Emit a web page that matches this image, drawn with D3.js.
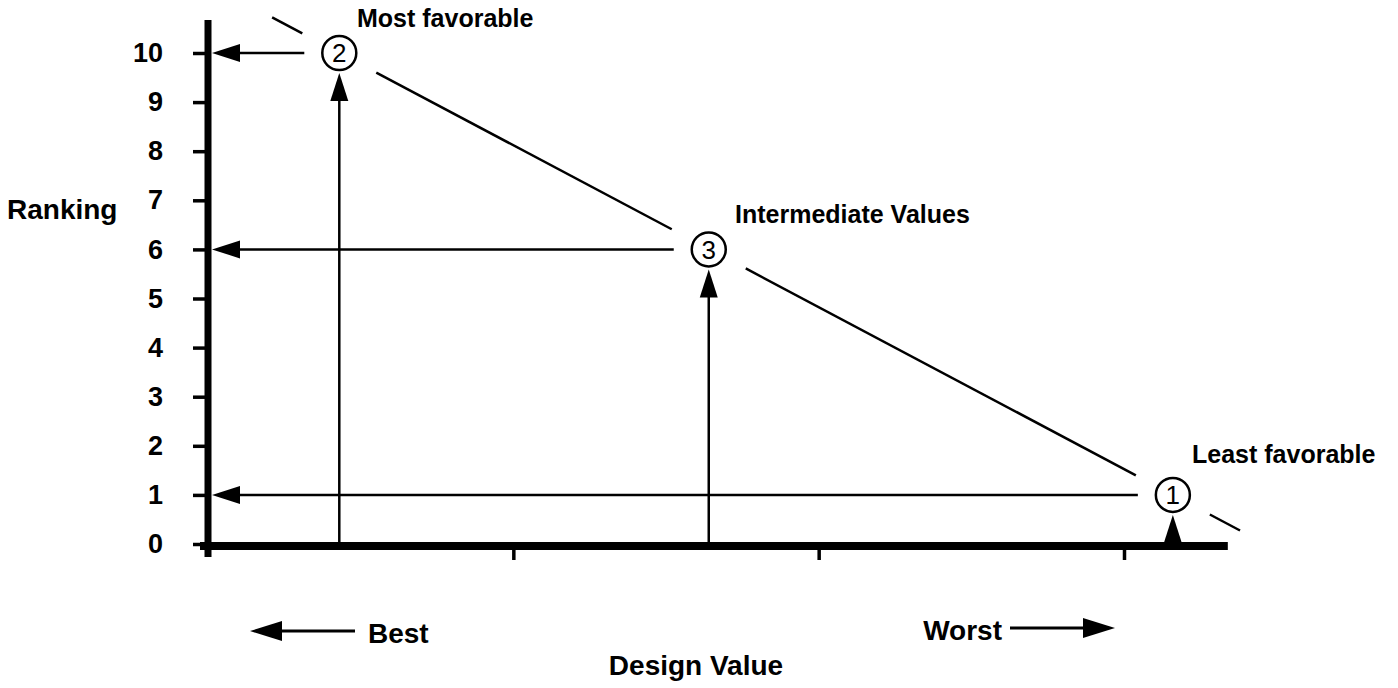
<!DOCTYPE html>
<html>
<head>
<meta charset="utf-8">
<script src="https://cdn.jsdelivr.net/npm/d3@7"></script>
<style>
  body { margin: 0; background: #fff; }
  svg text { font-family: "Liberation Sans", Arial, Helvetica, sans-serif; font-weight: bold; fill: #000; }
</style>
</head>
<body>
<svg></svg>
<script>
// ---- data ----
const rankTicks = [0, 1, 2, 3, 4, 5, 6, 7, 8, 9, 10];
const designTicks = [1, 2, 3];
const pointIds = ["2", "3", "1"];          // circled numbers
const designValues = [0.43, 1.64, 3.16];    // position on design value axis
const rankValues = [10, 6, 1];
const pointLabels = ["Most favorable", "Intermediate Values", "Least favorable"];
const lineExtent = [0.21, 3.38];            // ranking line drawn past both end points

const svgW = 1398, svgH = 688;

const svg = d3.select("svg")
    .attr("width", svgW)
    .attr("height", svgH);

const xScale = d3.scaleLinear()
    .domain([0, 3])
    .range([208, 1124]);

const yScale = d3.scaleLinear()
    .domain([0, 10])
    .range([544, 53]);

// ranking as a straight line through best and worst points
const rankOf = d3.scaleLinear()
    .domain([designValues[0], designValues[2]])
    .range([rankValues[0], rankValues[2]]);

// ---- axes ----
const yAxis = d3.axisLeft(yScale)
    .tickValues(rankTicks)
    .tickSize(15)
    .tickPadding(30);

const yG = svg.append("g")
    .attr("transform", `translate(${xScale(0)},0)`)
    .call(yAxis);
yG.select(".domain").remove();
yG.selectAll("line").attr("stroke", "#000").attr("stroke-width", 3.5);
yG.selectAll("text").attr("font-size", 27).attr("fill", "#000");

const xAxis = d3.axisBottom(xScale)
    .tickValues(designTicks)
    .tickSize(14)
    .tickFormat("");

const axisY = yScale(0) + 2;
const xG = svg.append("g")
    .attr("transform", `translate(0,${axisY})`)
    .call(xAxis);
xG.select(".domain").remove();
xG.selectAll("line").attr("stroke", "#000").attr("stroke-width", 3.5);

// thick axis lines
svg.append("line")
    .attr("x1", xScale(0)).attr("x2", xScale(0))
    .attr("y1", 20).attr("y2", axisY + 11)
    .attr("stroke", "#000").attr("stroke-width", 7);

svg.append("line")
    .attr("x1", xScale(0) - 8).attr("x2", xScale(3.34))
    .attr("y1", axisY).attr("y2", axisY)
    .attr("stroke", "#000").attr("stroke-width", 8);

// ---- arrow helper ----
function arrowHead(tipX, tipY, dir, len, half) {
    // dir: "left", "right", "up"
    let pts;
    if (dir === "left") pts = [[tipX, tipY], [tipX + len, tipY - half], [tipX + len, tipY + half]];
    else if (dir === "right") pts = [[tipX, tipY], [tipX - len, tipY - half], [tipX - len, tipY + half]];
    else pts = [[tipX, tipY], [tipX - half, tipY + len], [tipX + half, tipY + len]];
    svg.append("path")
        .attr("d", d3.line()(pts) + "Z")
        .attr("fill", "#000");
}

const r = 17;
const pts = designValues.map((d, i) => ({
    id: pointIds[i],
    cx: xScale(d),
    cy: yScale(rankValues[i]),
    label: pointLabels[i]
}));

// ---- ranking line, broken around each circle ----
const gap = 37;
const stops = [lineExtent[0]].concat(...designValues.map(d => [d, d])).concat([lineExtent[1]]);
for (let i = 0; i < stops.length; i += 2) {
    let a = stops[i], b = stops[i + 1];
    let xa = xScale(a) + (i === 0 ? 0 : gap);
    let xb = xScale(b) - (i === stops.length - 2 ? 0 : gap);
    svg.append("line")
        .attr("x1", xa).attr("y1", yScale(rankOf(xScale.invert(xa))))
        .attr("x2", xb).attr("y2", yScale(rankOf(xScale.invert(xb))))
        .attr("stroke", "#000").attr("stroke-width", 2.5);
}

// ---- horizontal arrows to the ranking axis ----
const axisRight = xScale(0) + 4;
for (let p of pts) {
    svg.append("line")
        .attr("x1", p.cx - 35).attr("x2", axisRight + 20)
        .attr("y1", p.cy).attr("y2", p.cy)
        .attr("stroke", "#000").attr("stroke-width", 2.5);
    arrowHead(axisRight, p.cy, "left", 28, 9);
}

// ---- vertical arrows from design value axis ----
for (let p of pts) {
    let tip = p.cy + r + 3;
    if (axisY - 4 - tip > 30) {
        svg.append("line")
            .attr("x1", p.cx).attr("x2", p.cx)
            .attr("y1", axisY - 4).attr("y2", tip + 20)
            .attr("stroke", "#000").attr("stroke-width", 2.5);
    }
    arrowHead(p.cx, tip, "up", Math.min(28, axisY - 3 - tip), 9);
}

// ---- circled numbers ----
const nodes = svg.append("g")
    .selectAll("g")
    .data(pts)
    .enter()
    .append("g")
    .attr("transform", d => `translate(${d.cx},${d.cy})`);

nodes.append("circle")
    .attr("r", r)
    .attr("fill", "#fff")
    .attr("stroke", "#000")
    .attr("stroke-width", 2.5);

nodes.append("text")
    .attr("text-anchor", "middle")
    .attr("dy", "0.36em")
    .attr("font-size", 26)
    .style("font-weight", "normal")
    .text(d => d.id);

// ---- point annotations ----
const labelPos = [[357, 27], [735, 223], [1192, 463]];
svg.append("g")
    .selectAll("text")
    .data(pts)
    .enter()
    .append("text")
    .attr("x", (d, i) => labelPos[i][0])
    .attr("y", (d, i) => labelPos[i][1])
    .attr("font-size", 25)
    .text(d => d.label);

// ---- axis titles ----
svg.append("text")
    .attr("x", 7).attr("y", 219)
    .attr("font-size", 28)
    .text("Ranking");

svg.append("text")
    .attr("x", 696).attr("y", 675)
    .attr("text-anchor", "middle")
    .attr("font-size", 28)
    .text("Design Value");

svg.append("text")
    .attr("x", 368).attr("y", 643)
    .attr("font-size", 28)
    .text("Best");

svg.append("text")
    .attr("x", 1002).attr("y", 640)
    .attr("text-anchor", "end")
    .attr("font-size", 28)
    .text("Worst");

// Best / Worst arrows
svg.append("line")
    .attr("x1", 355).attr("x2", 270).attr("y1", 631).attr("y2", 631)
    .attr("stroke", "#000").attr("stroke-width", 3);
arrowHead(250, 631, "left", 32, 10);

svg.append("line")
    .attr("x1", 1010).attr("x2", 1095).attr("y1", 628).attr("y2", 628)
    .attr("stroke", "#000").attr("stroke-width", 3);
arrowHead(1115, 628, "right", 32, 10);
</script>
</body>
</html>
